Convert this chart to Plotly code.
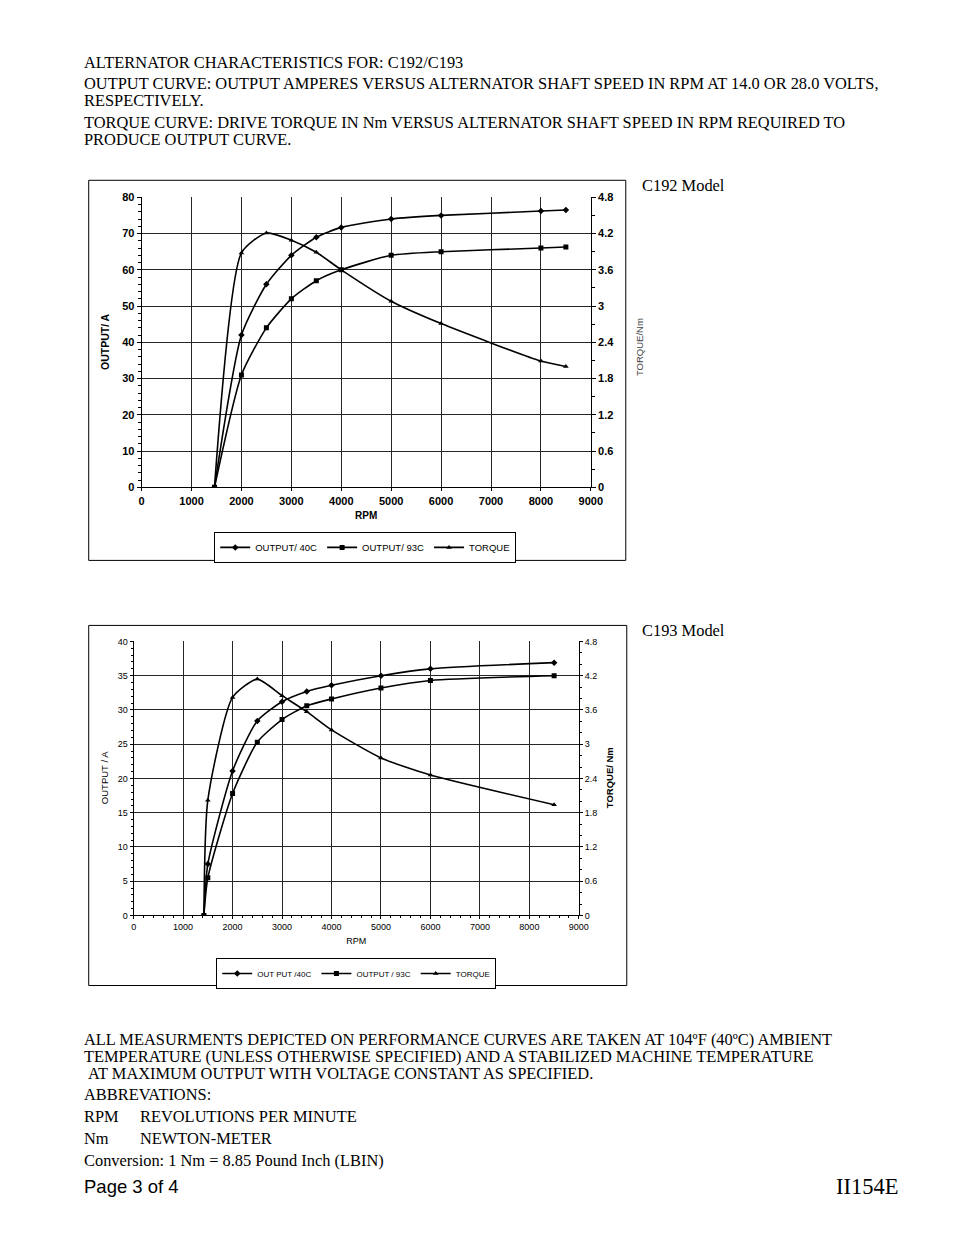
"""Alternator characteristic curves for the C192 / C193 models (datasheet page)."""

import plotly.graph_objects as go

W, H = 954, 1235
# the photographed page comes out slightly shrunk and shifted compared with the
# figure's own pixels; these constants map reference pixels back to figure pixels
SX, OX = 0.986, 10.3
SY, OY = 0.990, 13.9

# ---- C192 data (left axis amperes, right axis Nm) ----
rpm_192_40 = [1460, 2000, 2500, 3000, 3500, 4000, 5000, 6000, 8000, 8500]
amp_192_40 = [0, 42, 56, 64, 69, 71.7, 74, 75, 76.2, 76.5]
rpm_192_93 = [1460, 2000, 2500, 3000, 3500, 4000, 5000, 6000, 8000, 8500]
amp_192_93 = [0, 31, 44, 52, 57, 60, 64, 65, 66, 66.3]
rpm_192_tq = [1460, 2000, 2500, 3000, 3500, 4000, 5000, 6000, 8000, 8500]
tq_192 = [0, 3.88, 4.21, 4.09, 3.89, 3.6, 3.08, 2.71, 2.09, 2.0]

# ---- C193 data ----
rpm_193_40 = [1420, 1500, 2000, 2500, 3000, 3500, 4000, 5000, 6000, 8500]
amp_193_40 = [0, 7.5, 21.1, 28.4, 31.2, 32.7, 33.6, 35, 36, 36.9]
rpm_193_93 = [1420, 1500, 2000, 2500, 3000, 3500, 4000, 5000, 6000, 8500]
amp_193_93 = [0, 5.5, 17.8, 25.3, 28.6, 30.6, 31.6, 33.2, 34.3, 35]
rpm_193_tq = [1420, 1500, 2000, 2500, 3000, 3500, 4000, 5000, 6000, 8500]
tq_193 = [0, 2.02, 3.82, 4.14, 3.85, 3.57, 3.25, 2.76, 2.46, 1.94]

names_192 = ["OUTPUT/ 40C", "OUTPUT/ 93C", "TORQUE"]
names_193 = ["OUT PUT /40C", "OUTPUT / 93C", "TORQUE"]
symbols = ["diamond", "square", "triangle-up"]

SANS = "Liberation Sans, Arial, sans-serif"
SERIF = "Liberation Serif, Times New Roman, serif"
GRID = "#262626"


def px(x):
    """Page pixel x -> paper fraction."""
    return (x / SX - OX) / W


def py(y):
    """Page pixel y (from top) -> paper fraction."""
    return 1 - (y / SY - OY) / H


fig = go.Figure()

series_192 = [
    (rpm_192_40, amp_192_40, "x", "y"),
    (rpm_192_93, amp_192_93, "x", "y"),
    (rpm_192_tq, tq_192, "x", "y2"),
]
for (xs, ys, xa, ya), name, sym in zip(series_192, names_192, symbols):
    fig.add_trace(go.Scatter(
        x=xs, y=ys, name=name, xaxis=xa, yaxis=ya, legend="legend",
        mode="lines+markers",
        line=dict(color="black", width=1.6, shape="spline", smoothing=0.6),
        marker=dict(symbol=sym, size=5, color="black"),
    ))

series_193 = [
    (rpm_193_40, amp_193_40, "x2", "y3"),
    (rpm_193_93, amp_193_93, "x2", "y3"),
    (rpm_193_tq, tq_193, "x2", "y4"),
]
for (xs, ys, xa, ya), name, sym in zip(series_193, names_193, symbols):
    fig.add_trace(go.Scatter(
        x=xs, y=ys, name=name, xaxis=xa, yaxis=ya, legend="legend2",
        mode="lines+markers",
        line=dict(color="black", width=1.6, shape="spline", smoothing=0.6),
        marker=dict(symbol=sym, size=5, color="black"),
    ))

top_font = dict(family=SANS, size=11, color="black", weight="bold")
bot_font = dict(family=SANS, size=9, color="black")

axis_common = dict(
    showline=True, linecolor="black", linewidth=1,
    showgrid=True, gridcolor=GRID, gridwidth=1,
    zeroline=False, fixedrange=True,
)

fig.update_layout(
    width=W, height=H, autosize=False,
    margin=dict(l=0, r=0, t=0, b=0),
    paper_bgcolor="white", plot_bgcolor="white",
    showlegend=True,
    # --- C192 axes ---
    xaxis=dict(
        axis_common, domain=[px(141), px(591)], anchor="y",
        range=[0, 9000], dtick=1000, tickfont=top_font,
        ticks="outside", ticklen=3, tickcolor="black",
        title=dict(text="RPM", font=dict(family=SANS, size=10, color="black", weight="bold"),
                   standoff=6),
    ),
    yaxis=dict(
        axis_common, domain=[py(487), py(197)], anchor="x",
        range=[0, 80], dtick=10, tickfont=top_font,
        ticks="outside", ticklen=4, tickcolor="black",
        minor=dict(dtick=2, ticks="outside", ticklen=3, tickcolor="black", showgrid=False),
    ),
    yaxis2=dict(
        overlaying="y", side="right", anchor="x",
        range=[0, 4.8], dtick=0.6, tickfont=top_font,
        showline=True, linecolor="black", showgrid=False, zeroline=False,
        ticks="outside", ticklen=4, tickcolor="black", fixedrange=True,
        minor=dict(dtick=0.3, ticks="outside", ticklen=3, tickcolor="black"),
    ),
    # --- C193 axes ---
    xaxis2=dict(
        axis_common, domain=[px(133), px(579)], anchor="y3",
        range=[0, 9000], dtick=1000, tickfont=bot_font,
        ticks="outside", ticklen=3, tickcolor="black",
        minor=dict(dtick=200, ticks="outside", ticklen=2, tickcolor="black", showgrid=False),
        title=dict(text="RPM", font=dict(family=SANS, size=9, color="black"), standoff=6),
    ),
    yaxis3=dict(
        axis_common, domain=[py(915), py(641)], anchor="x2",
        range=[0, 40], dtick=5, tickfont=bot_font,
        ticks="outside", ticklen=3, tickcolor="black",
        minor=dict(dtick=1, ticks="outside", ticklen=2, tickcolor="black", showgrid=False),
    ),
    yaxis4=dict(
        overlaying="y3", side="right", anchor="x2",
        range=[0, 4.8], dtick=0.6, tickfont=bot_font,
        showline=True, linecolor="black", showgrid=False, zeroline=False,
        ticks="outside", ticklen=3, tickcolor="black", fixedrange=True,
        minor=dict(dtick=0.2, ticks="outside", ticklen=2, tickcolor="black"),
    ),
    legend=dict(
        orientation="h", x=px(365), y=py(547), xanchor="center", yanchor="middle",
        font=dict(family=SANS, size=9.5, color="black"),
        bordercolor="black", borderwidth=1, bgcolor="white",
        itemwidth=30, tracegroupgap=0,
    ),
    legend2=dict(
        orientation="h", x=px(356), y=py(973), xanchor="center", yanchor="middle",
        font=dict(family=SANS, size=8, color="black"),
        bordercolor="black", borderwidth=1, bgcolor="white",
        itemwidth=30, tracegroupgap=0,
    ),
)

# chart frames
for x0, y0, x1, y1 in [(88, 180, 626, 560), (88, 625, 627, 985)]:
    fig.add_shape(type="rect", xref="paper", yref="paper",
                  x0=px(x0), x1=px(x1), y0=py(y1), y1=py(y0),
                  line=dict(color="black", width=1), layer="below")

# axis titles (explicit anchors: "auto" would pin them by their edges)
axis_titles = [
    ("OUTPUT/ A", 105, 341, dict(family=SANS, size=10.5, color="black", weight="bold")),
    ("TORQUE/Nm", 640, 347, dict(family=SANS, size=9.5, color="#444")),
    ("OUTPUT / A", 104, 777, dict(family=SANS, size=9.5, color="black")),
    ("TORQUE/ Nm", 610, 777, dict(family=SANS, size=9.5, color="black", weight="bold")),
]
for t, x, y, f in axis_titles:
    fig.add_annotation(text=t, x=px(x), y=py(y), textangle=-90,
                       xanchor="center", yanchor="middle", font=f)

# page text (x is where the glyphs start)
body = dict(family=SERIF, size=16.4, color="black")
text_lines = [
    (84, 62, "ALTERNATOR CHARACTERISTICS FOR: C192/C193"),
    (84, 83.2, "OUTPUT CURVE: OUTPUT AMPERES VERSUS ALTERNATOR SHAFT SPEED IN RPM AT 14.0 OR 28.0 VOLTS,"),
    (84, 100.6, "RESPECTIVELY."),
    (84, 122, "TORQUE CURVE: DRIVE TORQUE IN Nm VERSUS ALTERNATOR SHAFT SPEED IN RPM REQUIRED TO"),
    (84, 139, "PRODUCE OUTPUT CURVE."),
    (643, 185, "C192 Model"),
    (643, 630, "C193 Model"),
    (84, 1038.6, "ALL MEASURMENTS DEPICTED ON PERFORMANCE CURVES ARE TAKEN AT 104ºF (40ºC) AMBIENT"),
    (84, 1056, "TEMPERATURE (UNLESS OTHERWISE SPECIFIED) AND A STABILIZED MACHINE TEMPERATURE"),
    (88, 1073.4, "AT MAXIMUM OUTPUT WITH VOLTAGE CONSTANT AS SPECIFIED."),
    (84, 1094, "ABBREVATIONS:"),
    (84, 1116, "RPM"),
    (140, 1116, "REVOLUTIONS PER MINUTE"),
    (84, 1138, "Nm"),
    (140, 1138, "NEWTON-METER"),
    (84, 1160, "Conversion: 1 Nm = 8.85 Pound Inch (LBIN)"),
]
for x, y, t in text_lines:
    fig.add_annotation(text=t, x=px(x), y=py(y), xanchor="left", yanchor="middle",
                       xshift=-3, showarrow=False, font=body)

fig.add_annotation(text="Page 3 of 4", x=px(84), y=py(1186), xanchor="left", yanchor="middle",
                   xshift=-3, showarrow=False, font=dict(family=SANS, size=18.5, color="black"))
fig.add_annotation(text="II154E", x=px(898), y=py(1186), xanchor="right", yanchor="middle",
                   xshift=3, showarrow=False, font=dict(family=SERIF, size=22.5, color="black"))

fig.update_annotations(xref="paper", yref="paper", showarrow=False)

fig.write_html("out.html")
